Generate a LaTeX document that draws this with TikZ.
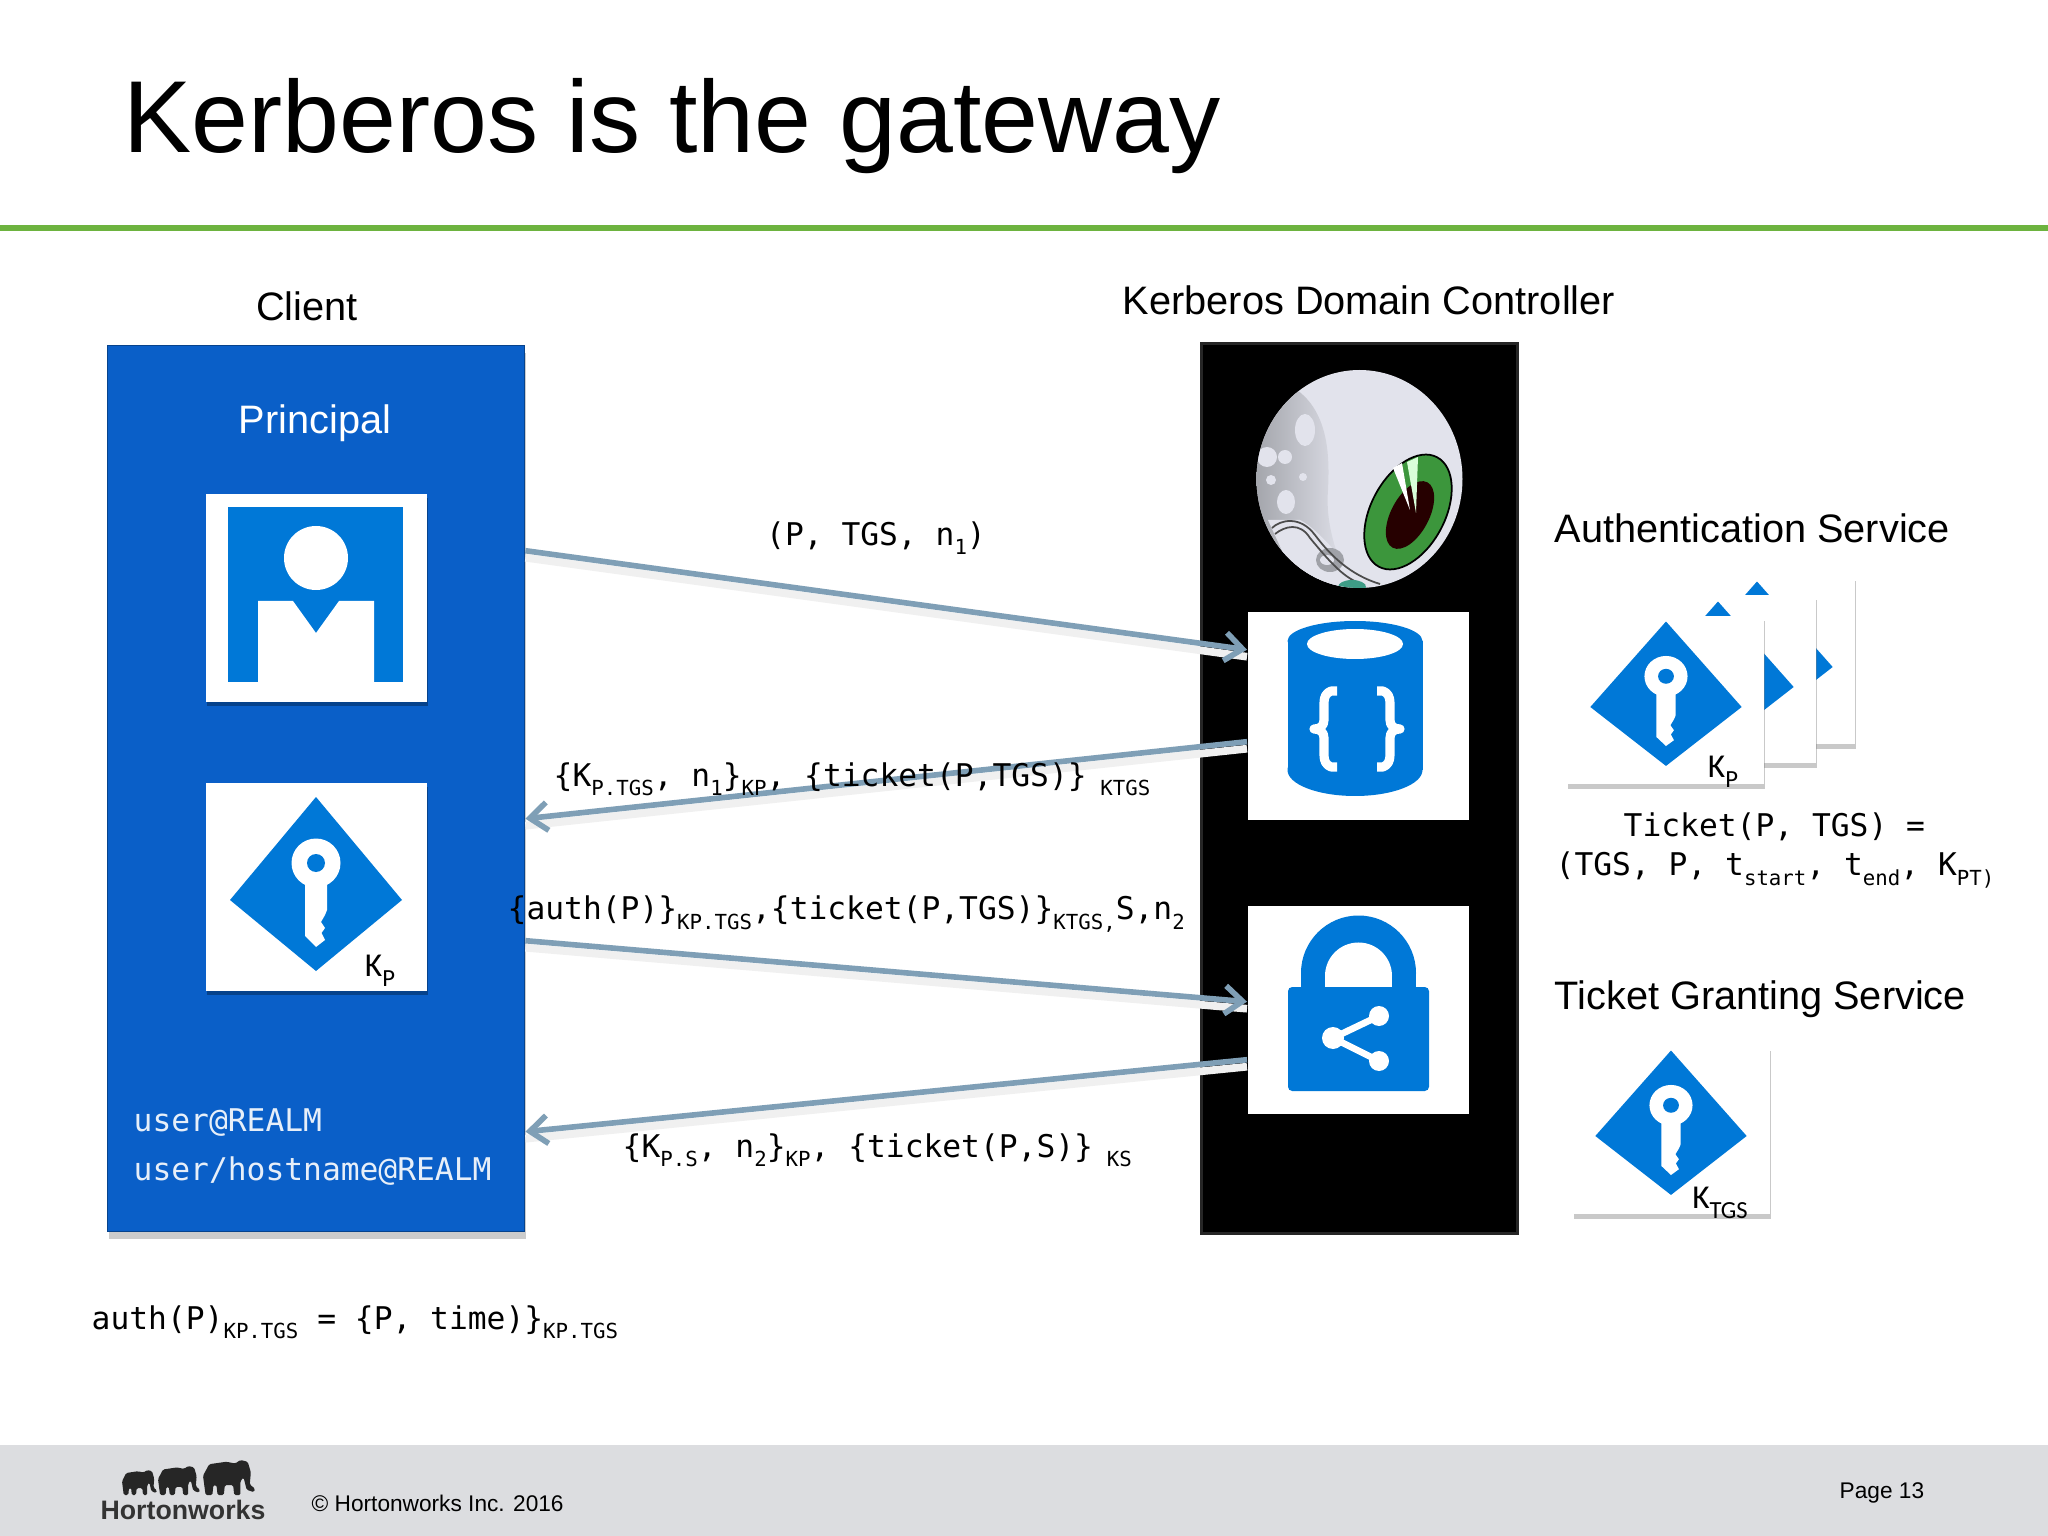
\documentclass[tikz,border=0pt]{standalone}
\usepackage{fontspec}
\setmainfont{Liberation Sans}
\newfontfamily\codefont{DejaVu Sans Mono}
\newfontfamily\cardfont{Carlito}
\usetikzlibrary{arrows.meta,shadows}
\definecolor{clientblue}{HTML}{0A5FC8}
\definecolor{iconblue}{HTML}{0078D7}
\definecolor{arrowblue}{HTML}{7F9FB6}
\definecolor{headgreen}{HTML}{6DB33F}
\definecolor{footgray}{HTML}{DCDDE0}
\definecolor{eyewhite}{HTML}{E2E3EC}
\definecolor{eyegray}{HTML}{A0A2A8}
\definecolor{irisgreen}{HTML}{3C963C}
\definecolor{eyeteal}{HTML}{3E9C86}
\newcommand{\lowpart}[1]{\raisebox{-.3em}{\fontsize{5.9}{6}\selectfont #1}}
\newcommand{\cardsub}[1]{\raisebox{-.3em}{\fontsize{7}{8}\selectfont #1}}
\tikzset{
  headtext/.style={font=\fontsize{11.3}{13}\selectfont, inner sep=0pt},
  codetext/.style={font=\codefont\fontsize{8.9}{11}\selectfont, inner sep=0pt},
  cardtext/.style={font=\cardfont\fontsize{9.5}{11}\selectfont, inner sep=0pt},
  foottext/.style={font=\fontsize{6.45}{8}\selectfont, inner sep=0pt},
  iconbox/.style={rectangle, fill=white, inner sep=0pt, minimum width=2.21cm, minimum height=2.08cm},
  cardbox/.style={rectangle, fill=white, inner sep=0pt, minimum width=1.97cm, minimum height=1.68cm,
    drop shadow={shadow xshift=.012cm, shadow yshift=-.05cm, opacity=.42, fill=gray}},
  msgarrow/.style={draw=arrowblue, line width=1.6pt, -{Straight Barb[length=5pt,width=8pt]},
    preaction={draw=gray!12, arrows=-, line width=2.2pt, transform canvas={yshift=-.07cm}}},
  keyicon/.pic={
    \fill[iconblue] (0,-1.03) -- (.86,0) -- (0,.71) -- (-.86,0) -- cycle;
    \fill[white] (0,-.37) circle (.245);
    \fill[white] (-.11,-.2) -- (-.11,.36) -- (0,.47) -- (.09,.40) -- (.055,.33) -- (.09,.28) -- (.05,.22) -- (.09,.15) -- (.11,.1) -- (.11,-.2) -- cycle;
    \fill[iconblue] (0,-.37) circle (.09);
  },
  elephant/.pic={
    \fill[black!85, rounded corners=.4pt] (0,.45) -- (.12,.12) -- (.45,.05) -- (.62,.1) -- (.72,0) -- (.86,.05) -- (.92,.35) -- (.9,.7) -- (1,.82) -- (.98,.92) -- (.84,.85) -- (.78,.5) -- (.72,.6) -- (.72,1) -- (.6,1) -- (.58,.72) -- (.42,.72) -- (.4,1) -- (.28,1) -- (.26,.72) -- (.2,.72) -- (.18,1) -- (.05,1) -- cycle;
  }
}
\begin{document}
\begin{tikzpicture}[x=1cm,y=-1cm]
\useasboundingbox (0,0) rectangle (20.48,15.36);
\fill[white] (0,0) rectangle (20.48,15.36);
% header and footer
\node (title) [anchor=west, inner sep=0pt, font=\fontsize{29.1}{33}\selectfont] at (1.23,1.26) {Kerberos is the gateway};
\fill[headgreen] (0,2.25) rectangle (20.48,2.31);
\fill[footgray] (0,14.45) rectangle (20.48,15.36);
\node (copyright) [foottext, anchor=west] at (3.11,15.03) {© Hortonworks Inc. 2016};
\node (page) [foottext, anchor=west] at (18.39,14.93) {Page 13};
\pic[xscale=.35,yscale=.25] at (1.22,14.70) {elephant};
\pic[xscale=.42,yscale=.29] at (1.58,14.66) {elephant};
\pic[xscale=.52,yscale=.35] at (2.03,14.60) {elephant};
\node (logo) [anchor=center, inner sep=0pt, text=black!80, font=\bfseries\fontsize{7.6}{9}\selectfont] at (1.83,15.10) {Hortonworks};
% client
\node (clienttitle) [headtext] at (3.07,3.06) {Client};
\node (client) [rectangle, anchor=north west, inner sep=0pt, fill=clientblue, draw=black!30!clientblue, line width=.4pt, minimum width=4.17cm, minimum height=8.86cm,
  drop shadow={shadow xshift=.01cm, shadow yshift=-.07cm, opacity=.4, fill=gray}] at (1.07,3.45) {};
\node (principal) [headtext, text=white] at (3.15,4.23) {Principal};
\node (usericon) [iconbox, anchor=north west, drop shadow={shadow xshift=.01cm, shadow yshift=-.04cm, opacity=.3, fill=black}] at (2.05,4.93) {};
\fill[iconblue] (2.28,5.07) rectangle (4.03,6.82);
\fill[white] (3.16,5.58) circle (.32);
\fill[white] (2.58,6.82) -- (2.58,6.01) -- (2.93,6.01) -- (3.16,6.33) -- (3.39,6.01) -- (3.74,6.01) -- (3.74,6.82) -- cycle;
\node (keycard) [iconbox, anchor=north west, drop shadow={shadow xshift=.01cm, shadow yshift=-.04cm, opacity=.3, fill=black}] at (2.05,7.82) {};
\pic at (3.16,9.0) {keyicon};
\node (kp) [cardtext] at (3.80,9.71) {K\cardsub{P}};
\node (user) [codetext, anchor=west, text=white!90!clientblue] at (1.33,11.23) {user@REALM};
\node (userhost) [codetext, anchor=west, text=white!90!clientblue] at (1.33,11.71) {user/hostname@REALM};
\node (authdef) [codetext, anchor=west] at (0.91,13.22) {auth(P)\lowpart{KP.TGS} = \{P, time)\}\lowpart{KP.TGS}};
% domain controller
\node (kdctitle) [headtext] at (13.69,3.0) {Kerberos Domain Controller};
\node (kdc) [rectangle, anchor=north west, inner sep=0pt, fill=black, draw=black!85, line width=.8pt, minimum width=3.16cm, minimum height=8.9cm] at (12.0,3.42) {};
% eye
\begin{scope}
\clip (13.595,4.79) ellipse (1.03 and 1.09);
\fill[eyewhite] (12.5,3.6) rectangle (14.7,5.9);
\shade[left color=eyegray, middle color=eyegray!70!eyewhite, right color=eyewhite] (12.5,3.75) .. controls (13.3,3.8) and (13.3,4.5) .. (13.28,4.9) .. controls (13.25,5.3) and (13.4,5.6) .. (13.5,5.9) -- (12.5,5.9) -- cycle;
\fill[eyewhite] (13.05,4.3) ellipse (.1 and .16);
\fill[eyewhite] (12.85,4.57) circle (.07);
\fill[eyewhite] (12.67,4.57) ellipse (.1 and .1);
\fill[eyewhite] (12.71,4.8) circle (.05);
\fill[eyewhite] (12.86,5.02) ellipse (.09 and .12);
\fill[eyewhite] (13.03,4.77) circle (.04);
\fill[eyewhite] (12.68,5.2) -- (13.0,5.2) .. controls (13.2,5.3) and (13.4,5.6) .. (13.7,5.85) -- (13.0,5.9) -- cycle;
\fill[eyegray] (13.3,5.6) ellipse (.14 and .12);
\fill[eyewhite] (13.27,5.6) ellipse (.07 and .05);
\draw[black!70, line width=.5pt] (12.72,5.28) .. controls (12.8,5.2) and (13.0,5.15) .. (13.15,5.35) .. controls (13.3,5.55) and (13.5,5.75) .. (13.8,5.84);
\draw[black!70, line width=.5pt] (12.75,5.34) .. controls (12.85,5.26) and (13.0,5.22) .. (13.1,5.38) .. controls (13.3,5.62) and (13.45,5.8) .. (13.65,5.85);
\fill[eyeteal] (13.52,5.87) ellipse (.14 and .07);
\end{scope}
\fill[irisgreen, draw=black, line width=.5pt, rotate around={62:(14.08,5.12)}] (14.08,5.12) ellipse (.62 and .37);
\fill[black!85!red, rotate around={62:(14.10,5.15)}] (14.10,5.15) ellipse (.37 and .19);
\fill[white] (13.93,4.68) -- (14.02,4.63) -- (14.10,5.10) -- cycle;
\fill[white!85!green] (14.07,4.62) -- (14.18,4.57) -- (14.16,5.13) -- cycle;
% as and tgs icons
\node (asicon) [iconbox, anchor=north west] at (12.47,6.11) {};
\fill[iconblue] (12.875,6.41) rectangle (14.225,7.70);
\fill[iconblue] (13.55,6.41) ellipse (.675 and .20);
\fill[iconblue] (13.55,7.70) ellipse (.675 and .26);
\fill[white] (13.55,6.44) ellipse (.48 and .15);
\draw[white, line width=2.6pt, line join=round] (13.37,6.91) -- (13.31,6.91) .. controls (13.26,6.93) and (13.24,6.97) .. (13.24,7.03) -- (13.24,7.20) .. controls (13.24,7.26) and (13.20,7.29) .. (13.14,7.29) .. controls (13.20,7.29) and (13.24,7.32) .. (13.24,7.38) -- (13.24,7.55) .. controls (13.24,7.61) and (13.26,7.65) .. (13.31,7.67) -- (13.37,7.67);
\draw[white, line width=2.6pt, line join=round] (13.77,6.91) -- (13.83,6.91) .. controls (13.88,6.93) and (13.90,6.97) .. (13.90,7.03) -- (13.90,7.20) .. controls (13.90,7.26) and (13.94,7.29) .. (14.00,7.29) .. controls (13.94,7.29) and (13.90,7.32) .. (13.90,7.38) -- (13.90,7.55) .. controls (13.90,7.61) and (13.88,7.65) .. (13.83,7.67) -- (13.77,7.67);
\node (tgsicon) [iconbox, anchor=north west] at (12.47,9.05) {};
\fill[iconblue] (13.585,9.73) circle (.575);
\fill[iconblue] (13.01,9.73) rectangle (14.16,9.92);
\fill[white] (13.585,9.76) circle (.335);
\fill[white] (13.25,9.76) rectangle (13.92,9.92);
\fill[iconblue, rounded corners=1.2pt] (12.88,9.87) rectangle (14.29,10.91);
\draw[white, line width=1.9pt] (13.79,10.16) -- (13.33,10.38) -- (13.79,10.61);
\fill[white] (13.33,10.38) circle (.11);
\fill[white] (13.79,10.16) circle (.10);
\fill[white] (13.79,10.61) circle (.10);
% keys behind the services
\node (asservice) [headtext, anchor=west] at (15.54,5.28) {Authentication Service};
\node (cardc) [cardbox, anchor=north west] at (16.57,5.75) {};
\pic[xscale=.88,yscale=.83] at (17.57,6.67) {keyicon};
\node (cardb) [cardbox, anchor=north west] at (16.18,5.94) {};
\pic[xscale=.88,yscale=.83] at (17.18,6.87) {keyicon};
\node (carda) [cardbox, anchor=north west] at (15.66,6.15) {};
\pic[xscale=.88,yscale=.83] at (16.66,7.07) {keyicon};
\node (kpas) [cardtext] at (17.23,7.72) {K\cardsub{P}};
\node (ticket) [codetext, anchor=west] at (16.23,8.27) {Ticket(P, TGS) =};
\node (ticketbody) [codetext, anchor=west] at (15.55,8.70) {(TGS, P, t\lowpart{start}, t\lowpart{end}, K\lowpart{PT)}};
\node (tgsservice) [headtext, anchor=west] at (15.54,9.99) {Ticket Granting Service};
\node (cardk) [cardbox, anchor=north west, minimum height=1.68cm] at (15.72,10.45) {};
\pic[xscale=.88,yscale=.83] at (16.71,11.36) {keyicon};
\node (ktgs) [cardtext] at (17.20,12.03) {K\cardsub{TGS}};
% messages
\draw[msgarrow] ([yshift=2.38cm]client.east) -- ([yshift=.66cm]asicon.west);
\draw[msgarrow] ([yshift=-.26cm]asicon.west) -- ([yshift=-.30cm]client.east);
\draw[msgarrow] ([yshift=-1.52cm]client.east) -- ([yshift=.08cm]tgsicon.west);
\draw[msgarrow] ([yshift=-.50cm]tgsicon.west) -- ([yshift=-3.43cm]client.east);
\node (msga) [codetext] at (8.76,5.38) {(P, TGS, n\lowpart{1})};
\node (msgb) [codetext, anchor=west] at (5.53,7.79) {\{K\lowpart{P.TGS}, n\lowpart{1}\}\lowpart{KP}, \{ticket(P,TGS)\}\hspace{3.9pt}\lowpart{KTGS}};
\node (msgc) [codetext, anchor=west] at (5.07,9.14) {\{auth(P)\}\lowpart{KP.TGS},\{ticket(P,TGS)\}\lowpart{KTGS,}S,n\lowpart{2}};
\node (msgd) [codetext, anchor=west] at (6.22,11.50) {\{K\lowpart{P.S}, n\lowpart{2}\}\lowpart{KP}, \{ticket(P,S)\}\hspace{3.9pt}\lowpart{KS}};
\end{tikzpicture}
\end{document}
